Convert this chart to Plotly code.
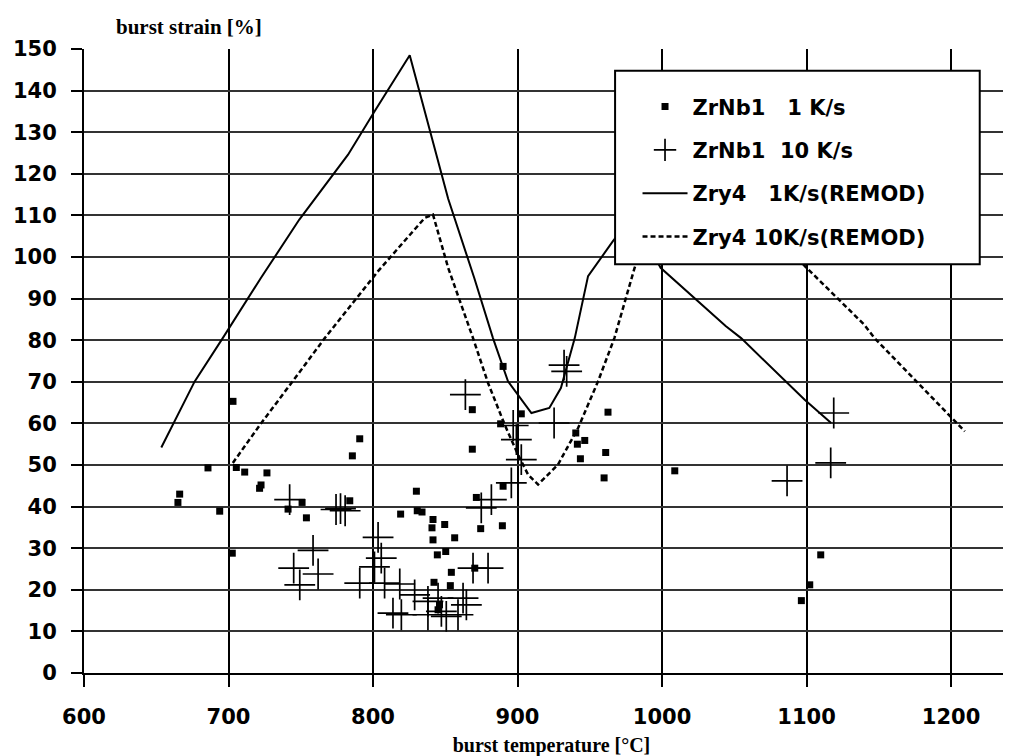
import plotly.graph_objects as go

# ZrNb1 1 K/s (square dots)
nb1_x = [703.1, 685.8, 666.2, 665.0, 693.9, 702.6, 705.4, 711.2, 726.6, 722.5, 721.5,
         741.2, 750.9, 753.9, 785.7, 790.8, 783.9,
         890.0, 868.7, 888.3, 902.6, 868.7, 830.0, 871.5, 890.0, 819.1, 830.6, 833.9,
         841.5, 849.6, 840.8, 841.5, 856.5, 874.5, 889.5, 844.5, 850.3, 854.2, 842.2,
         853.5, 870.4, 846.0, 845.0,
         962.6, 940.3, 941.4, 946.5, 961.0, 943.5, 959.9, 1008.8,
         1109.8, 1102.2, 1096.4]
nb1_y = [65.3, 49.3, 43.0, 41.0, 38.9, 28.8, 49.4, 48.3, 48.1, 45.2, 44.4,
         39.4, 41.0, 37.3, 52.2, 56.3, 41.4,
         73.7, 63.3, 59.9, 62.3, 53.8, 43.7, 42.2, 44.9, 38.2, 39.0, 38.7,
         36.9, 35.7, 34.9, 32.0, 32.5, 34.7, 35.4, 28.4, 29.2, 24.2, 21.8,
         21.0, 25.2, 16.4, 15.2,
         62.7, 57.7, 55.0, 55.9, 53.0, 51.5, 46.9, 48.6,
         28.4, 21.2, 17.4]

# ZrNb1 10 K/s (crosses)
nb10_x = [742.3, 774.4, 777.5, 780.7, 758.5, 745.1, 749.3, 762.0, 790.8,
          863.9, 803.5, 805.7, 801.0, 808.0, 818.5, 813.8, 819.6, 828.8, 838.0, 838.0,
          845.0, 847.3, 850.7, 858.8, 862.3, 864.6, 869.2, 879.6, 874.9, 881.9,
          895.7, 902.6, 899.2, 897.0,
          932.2, 934.0, 925.3,
          1118.8, 1116.7, 1086.5]
nb10_y = [41.7, 39.3, 39.5, 39.0, 29.5, 25.2, 21.2, 23.8, 21.6,
          66.9, 32.6, 27.6, 25.5, 21.6, 21.4, 14.4, 14.0, 18.8, 17.2, 14.0,
          18.0, 14.8, 13.6, 14.0, 18.0, 16.4, 25.2, 25.2, 39.7, 41.7,
          45.7, 51.3, 56.1, 59.5,
          74.0, 72.5, 60.1,
          62.5, 50.5, 46.2]

# Zry4 1 K/s (REMOD) - solid line
z1_x = [653.5, 676.6, 696.0, 722.5, 749.0, 782.7, 801.0, 825.4, 852.0, 870.0, 883.0,
        893.4, 909.6, 922.0, 930.0, 939.6, 948.8, 966.0, 980.0, 999.0, 1044.0, 1054.7,
        1098.7, 1117.0]
z1_y = [54.2, 70.1, 80.5, 95.0, 109.0, 124.6, 135.0, 148.5, 114.0, 95.0, 80.5,
        70.1, 62.5, 63.7, 68.5, 80.5, 95.4, 103.8, 110.0, 97.4, 83.4, 80.5,
        65.7, 60.1]

# Zry4 10 K/s (REMOD) - dashed line
z10_x = [703.0, 722.5, 743.5, 766.6, 803.5, 835.8, 841.5, 852.0, 869.2, 879.6, 891.1,
         900.3, 907.3, 914.2, 928.0, 941.9, 955.7, 967.0, 981.0, 1015.0, 1100.0, 1140.0,
         1147.0, 1209.5]
z10_y = [50.5, 60.0, 69.7, 80.5, 96.6, 109.4, 110.2, 97.4, 80.5, 69.7, 59.7,
         52.5, 47.7, 45.3, 50.1, 58.9, 70.1, 80.5, 97.4, 128.0, 97.4, 83.7,
         80.5, 58.1]

y_ticks = list(range(0, 151, 10))
x_ticks = [600, 700, 800, 900, 1000, 1100, 1200]

NB = "\u00a0"
names = [f"ZrNb1{NB*3}1{NB}K/s", f"ZrNb1{NB*2}10{NB}K/s",
         f"Zry4{NB*3}1K/s(REMOD)", f"Zry4{NB}10K/s(REMOD)"]

fig = go.Figure()
fig.add_trace(go.Scatter(x=nb1_x, y=nb1_y, mode="markers", name=names[0], legendgroup="a",
                         marker=dict(symbol="square", size=7, color="black")))
fig.add_trace(go.Scatter(x=nb10_x, y=nb10_y, mode="markers", name=names[1], legendgroup="b",
                         marker=dict(symbol="cross-thin-open", size=22, color="black",
                                     line=dict(color="black", width=1.7))))
fig.add_trace(go.Scatter(x=z1_x, y=z1_y, mode="lines", name=names[2], legendgroup="c",
                         line=dict(color="black", width=2)))
fig.add_trace(go.Scatter(x=z10_x, y=z10_y, mode="lines", name=names[3], legendgroup="d",
                         line=dict(color="black", width=2.5, dash="5px,3px")))

# legend frame (white box hiding lines beneath)
fig.add_shape(type="rect", xref="paper", yref="paper",
              x0=0.568, x1=0.958, y0=0.655, y1=0.965,
              line=dict(color="black", width=2), fillcolor="white", layer="above")

tickfont = dict(family="DejaVu Sans", size=21, color="black", weight="bold")
fig.update_layout(
    width=1011, height=756,
    margin=dict(l=76, r=0, t=41, b=91),
    paper_bgcolor="white", plot_bgcolor="white",
    showlegend=True,
    legend=dict(x=0.592, y=0.940, xanchor="left", yanchor="top",
                bgcolor="rgba(0,0,0,0)", borderwidth=0,
                font=dict(family="DejaVu Sans", size=21, color="black", weight="bold"),
                tracegroupgap=13, itemwidth=45),
    xaxis=dict(range=[600, 1247], tickvals=x_ticks, ticktext=[str(v) for v in x_ticks],
               showgrid=True, gridcolor="black", gridwidth=2,
               showline=True, linecolor="black", linewidth=2,
               ticks="outside", ticklen=12, tickwidth=2, tickcolor="black",
               tickfont=tickfont, ticklabelstandoff=12, zeroline=False,
               title=dict(text="burst temperature [°C]",
                          font=dict(family="Liberation Serif", size=20, color="black", weight="bold"),
                          standoff=10)),
    yaxis=dict(range=[0, 150], tickvals=y_ticks,
               showgrid=True, gridcolor="#333", gridwidth=1.6,
               showline=True, linecolor="black", linewidth=2,
               ticks="outside", ticklen=11, tickwidth=2, tickcolor="black",
               tickfont=tickfont, ticklabelstandoff=10, zeroline=False),
)
fig.add_annotation(text="burst strain [%]", xref="paper", yref="paper",
                   x=(106 - 76) / 935, y=1.0, yshift=22, xanchor="left", yanchor="middle",
                   showarrow=False,
                   font=dict(family="Liberation Serif", size=21, color="black", weight="bold"))

fig.write_html("out.html")
